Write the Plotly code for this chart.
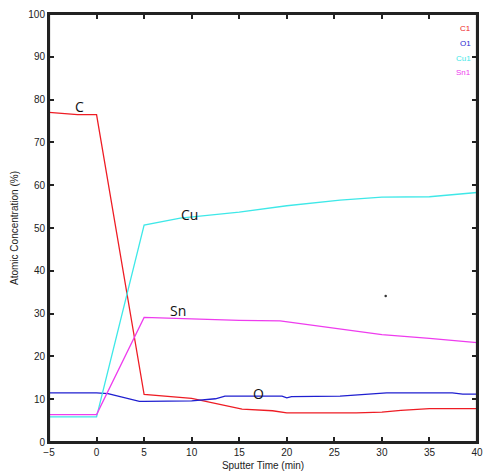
import plotly.graph_objects as go

# Sputter time (min) and atomic concentration (%)
c_x = [-5, -2, 0, 5, 10, 14, 15.3, 18.5, 20, 27.3, 30, 32, 35, 40]
c_y = [77.0, 76.5, 76.5, 11.1, 10.2, 8.2, 7.7, 7.3, 6.8, 6.8, 7.0, 7.4, 7.8, 7.8]

o_x = [-5, 0, 1.2, 4.5, 5, 10, 12.5, 13.5, 15, 19.5, 20, 20.5, 25.6, 28, 30.5, 37.4, 38.5, 40]
o_y = [11.5, 11.5, 11.3, 9.5, 9.5, 9.6, 10.1, 10.7, 10.7, 10.7, 10.3, 10.6, 10.7, 11.1, 11.5, 11.5, 11.2, 11.2]

cu_x = [-5, 0, 5, 8.8, 15, 20, 25.6, 30, 35, 40]
cu_y = [5.85, 5.85, 50.7, 52.3, 53.7, 55.2, 56.5, 57.2, 57.3, 58.3]

sn_x = [-5, 0, 5, 10, 12.5, 15, 19.3, 23.8, 30, 35, 40]
sn_y = [6.4, 6.4, 29.1, 28.8, 28.5, 28.4, 28.3, 26.9, 25.1, 24.2, 23.2]

dot_x = [30.4]
dot_y = [34.1]

series_names = ["C", "O", "Cu", "Sn"]
legend_labels = ["C1", "O1", "Cu1", "Sn1"]
colors = ["#ee1c24", "#1f1fd0", "#3ee8e8", "#ee3cee"]

# label positions (data coords) for in-plot element names
label_x = [-1.8, 17.0, 9.8, 8.6]
label_y = [78.5, 11.3, 53.2, 30.8]

xs = [c_x, o_x, cu_x, sn_x]
ys = [c_y, o_y, cu_y, sn_y]

fig = go.Figure()
for name, x, y, col in zip(series_names, xs, ys, colors):
    fig.add_trace(go.Scatter(x=x, y=y, mode="lines", name=name,
                             line=dict(color=col, width=1.3), showlegend=False))

fig.add_trace(go.Scatter(x=dot_x, y=dot_y, mode="markers",
                         marker=dict(color="#333333", size=2.5), showlegend=False))

for name, lx, ly in zip(series_names, label_x, label_y):
    fig.add_annotation(x=lx, y=ly, text=name, showarrow=False,
                       font=dict(family="Open Sans", size=14, color="#111111"))

for i, (lab, col) in enumerate(zip(legend_labels, colors)):
    fig.add_annotation(xref="paper", yref="paper", x=0.9895, y=0.966 - i * 0.0345,
                       xanchor="right", yanchor="middle", text=lab, showarrow=False,
                       font=dict(family="Liberation Sans", size=8, color=col))

# plot frame
fig.add_shape(type="rect", xref="paper", yref="paper", x0=0, y0=0, x1=1, y1=1,
              line=dict(color="#222222", width=2.2))

axis_common = dict(showgrid=False, zeroline=False, showline=True, linecolor="#222222",
                   linewidth=2, mirror="ticks", ticks="inside", ticklen=5,
                   tickwidth=1.5, tickcolor="#222222",
                   tickfont=dict(family="Liberation Sans", size=10, color="#222222"))

fig.update_xaxes(range=[-5, 40], dtick=5, tick0=-5,
                 title=dict(text="Sputter Time (min)", standoff=5,
                            font=dict(family="Liberation Sans", size=10, color="#222222")),
                 **axis_common)
fig.update_yaxes(range=[0, 100], dtick=10,
                 title=dict(text="Atomic Concentration (%)", standoff=8,
                            font=dict(family="Liberation Sans", size=10, color="#222222")),
                 **axis_common)

fig.update_layout(width=486, height=476, margin=dict(l=49, r=9, t=14, b=34, autoexpand=False),
                  plot_bgcolor="white", paper_bgcolor="white")

fig.write_html("out.html")
